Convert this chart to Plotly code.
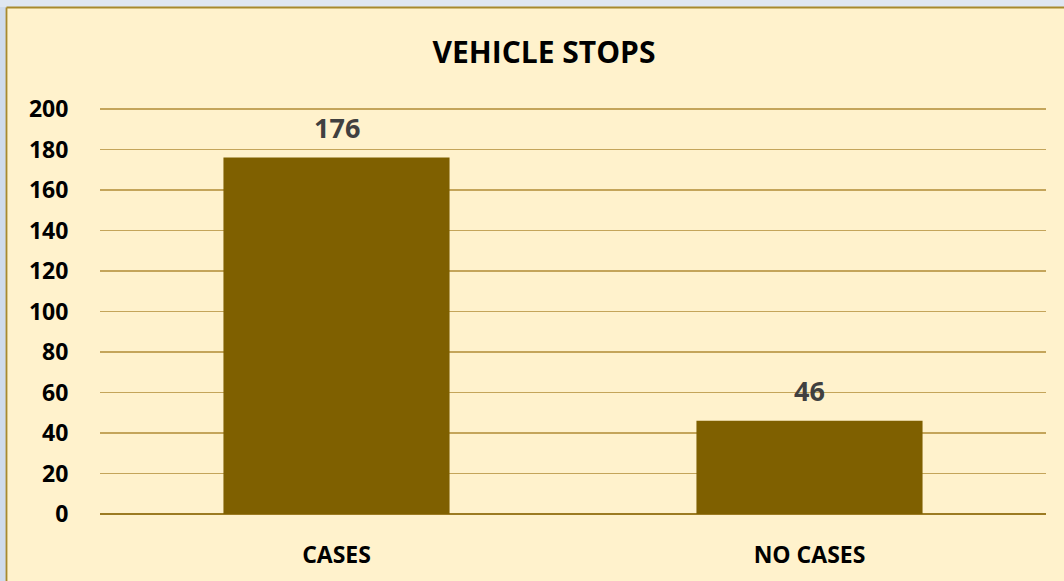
import plotly.graph_objects as go

categories = ["CASES", "NO CASES"]
values = [176, 46]
y_ticks = [0, 20, 40, 60, 80, 100, 120, 140, 160, 180, 200]
title_text = "VEHICLE STOPS"

W, H = 1064, 581
ML, MR, MT, MB = 100, 18, 108, 67
PW, PH = W - ML - MR, H - MT - MB

def px_x(p):
    return (p - ML) / PW

def px_y(q):
    return (H - MB - q) / PH

FONT = "Open Sans"
BAR = "#7f6000"
CREAM = "#fff2cc"

fig = go.Figure()
fig.add_trace(go.Bar(
    x=categories, y=values, marker=dict(color=BAR, line=dict(width=0)),
    width=0.478, hoverinfo="skip",
))

for c, v in zip(categories, values):
    fig.add_annotation(x=c, y=v, text=str(v), showarrow=False,
                       yanchor="middle", yshift=30,
                       font=dict(family=FONT, size=27, color="#404040", weight="bold"))

shapes = [
    dict(type="rect", xref="paper", yref="paper", x0=px_x(-5), x1=px_x(6), y0=px_y(600), y1=px_y(-5),
         fillcolor="#cfdbec", line=dict(width=0), layer="above"),
    dict(type="rect", xref="paper", yref="paper", x0=px_x(-5), x1=px_x(1070), y0=px_y(7), y1=px_y(-5),
         fillcolor="#dfe7f2", line=dict(width=0), layer="above"),
    dict(type="line", xref="paper", yref="paper", x0=px_x(6.5), x1=px_x(6.5), y0=px_y(7.5), y1=px_y(600),
         line=dict(color="#a88a2e", width=1.8), layer="above"),
    dict(type="line", xref="paper", yref="paper", x0=px_x(6.5), x1=px_x(1070), y0=px_y(7.5), y1=px_y(7.5),
         line=dict(color="#a88a2e", width=1.8), layer="above"),
]

fig.update_layout(
    width=W, height=H,
    margin=dict(l=ML, r=MR, t=MT, b=MB, autoexpand=False),
    paper_bgcolor=CREAM, plot_bgcolor=CREAM,
    showlegend=False,
    shapes=shapes,
    title=dict(text=title_text, x=544 / W, xanchor="center", xref="container",
               y=1 - 52 / H, yanchor="middle", yref="container",
               font=dict(family=FONT, size=30, color="#000000", weight="bold")),
    font=dict(family=FONT, color="#000000"),
    xaxis=dict(showgrid=False, showline=False, zeroline=False, automargin=False,
               ticks="outside", ticklen=20, tickcolor="rgba(0,0,0,0)",
               tickfont=dict(family=FONT, size=23, color="#000000", weight="bold")),
    yaxis=dict(range=[0, 200.5], tickvals=y_ticks, showgrid=True, gridcolor="#c4a55a", gridwidth=1.5,
               zeroline=True, zerolinecolor="#9c7b22", zerolinewidth=2.2, showline=False, automargin=False,
               ticks="outside", ticklen=26, tickcolor="rgba(0,0,0,0)",
               tickfont=dict(family=FONT, size=23, color="#000000", weight="bold")),
)

fig.write_html("out.html", config={"displayModeBar": False, "staticPlot": True},
               post_script="document.body.style.margin='0';document.body.style.padding='0';"
                           "document.body.style.overflow='hidden';document.body.style.background='#fff2cc';")
